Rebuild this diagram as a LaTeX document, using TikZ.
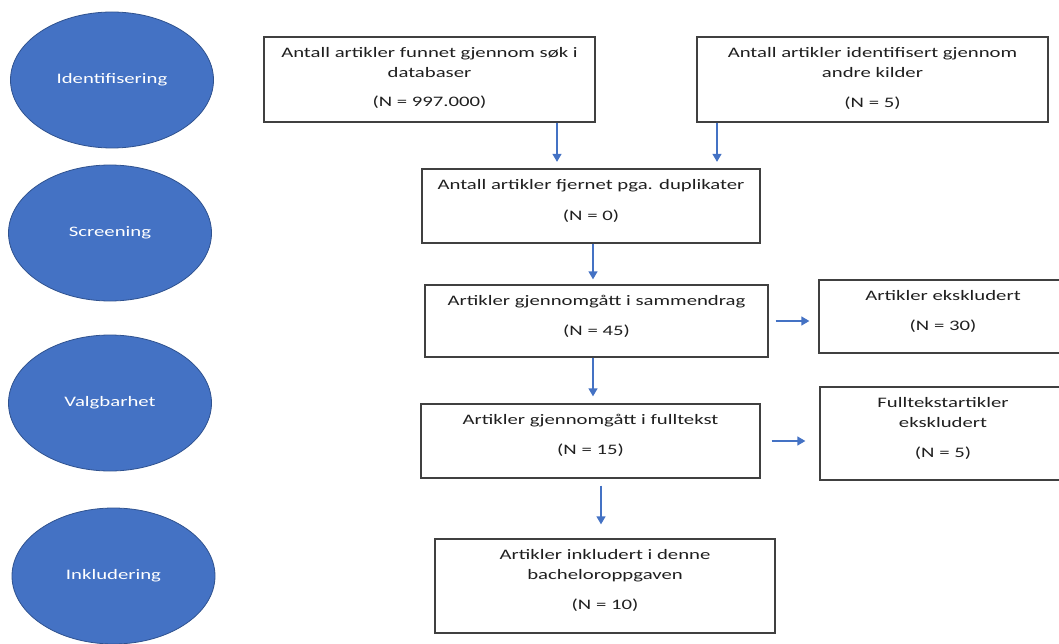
\documentclass[tikz,border=0pt]{standalone}
\usepackage{fontspec}
\setmainfont{Carlito}[FakeStretch=1.43]
\usetikzlibrary{shapes.geometric,arrows.meta,positioning}
\definecolor{fasebla}{HTML}{4472C4}
\definecolor{faserand}{HTML}{2F528F}
\definecolor{ramme}{HTML}{404040}
\tikzset{
  fase/.style={ellipse,fill=fasebla,draw=faserand,line width=0.8pt,minimum width=203pt,minimum height=136pt,text=white,font=\fontsize{14.5}{20}\selectfont},
  boks/.style={draw=ramme,line width=1.3pt,inner sep=0pt},
  tekst/.style={align=center,inner sep=0pt,text=black!88,font=\fontsize{14.5}{20}\selectfont},
  flyt/.style={-{Triangle[length=8pt,width=9pt]},draw=fasebla,line width=1.3pt}
}
\begin{document}
\begin{tikzpicture}[x=1pt,y=-1pt]
      \clip (0,0) rectangle (1059,644);
      \node[fase] (ident) at (112,80) {Identifisering};
      \node[fase] (screen) at (110,233) {Screening};
      \node[fase] (valg) at (110,403) {Valgbarhet};
      \node[fase] (inkl) at (113.5,576) {Inkludering};
      \node[boks,minimum width=331pt,minimum height=85pt] (fund) at (429.5,79.5) {};
      \node[boks,minimum width=351pt,minimum height=85pt] (andre) at (872.5,79.5) {};
      \node[boks,minimum width=338pt,minimum height=74pt] (dupl) at (591,206) {};
      \node[boks,minimum width=343pt,minimum height=72pt] (samm) at (596.5,321) {};
      \node[boks,minimum width=248pt,minimum height=73pt] (eksk) at (943,316.5) {};
      \node[boks,minimum width=339pt,minimum height=74pt] (full) at (590.5,441) {};
      \node[boks,minimum width=246pt,minimum height=93pt] (fulleks) at (943,433.5) {};
      \node[boks,minimum width=340pt,minimum height=94pt] (inklbok) at (605,586) {};
      \node[tekst,below=11pt of fund.north] (fundtekst) {Antall artikler funnet gjennom søk i\\databaser\\[9pt](N = 997.000)};
      \node[tekst,below=11pt of andre.north] (andretekst) {Antall artikler identifisert gjennom\\andre kilder\\[10pt](N = 5)};
      \node[tekst,below=11pt of dupl.north] (dupltekst) {Antall artikler fjernet pga. duplikater\\[11pt](N = 0)};
      \node[tekst,below=11pt of samm.north] (sammtekst) {Artikler gjennomgått i sammendrag\\[10pt](N = 45)};
      \node[tekst,below=11pt of eksk.north] (eksktekst) {Artikler ekskludert\\[10pt](N = 30)};
      \node[tekst,below=11pt of full.north] (fulltekst) {Artikler gjennomgått i fulltekst\\[10pt](N = 15)};
      \node[tekst,below=11pt of fulleks.north] (fullekstekst) {Fulltekstartikler\\ekskludert\\[10pt](N = 5)};
      \node[tekst,below=11pt of inklbok.north] (inkltekst) {Artikler inkludert i denne\\bacheloroppgaven\\[10pt](N = 10)};
      \begin{scope}[flyt]
        \draw ([xshift=127.5pt]fund.south) -- ([xshift=-34pt,yshift=6.5pt]dupl.north);
        \draw ([xshift=-155.5pt]andre.south) -- ([xshift=126pt,yshift=6.5pt]dupl.north);
        \draw ([xshift=2pt]dupl.south) -- ([xshift=-3.5pt,yshift=5pt]samm.north);
        \draw ([xshift=-3.5pt]samm.south) -- ([xshift=2.5pt,yshift=7pt]full.north);
        \draw ([xshift=10.5pt,yshift=-7pt]full.south) -- ([xshift=-4pt,yshift=14pt]inklbok.north);
        \draw ([xshift=7pt]samm.east) -- ([xshift=-9pt]samm.east -| eksk.west);
        \draw ([xshift=11pt]full.east) -- ([xshift=-14pt]full.east -| fulleks.west);
      \end{scope}
\end{tikzpicture}
\end{document}
